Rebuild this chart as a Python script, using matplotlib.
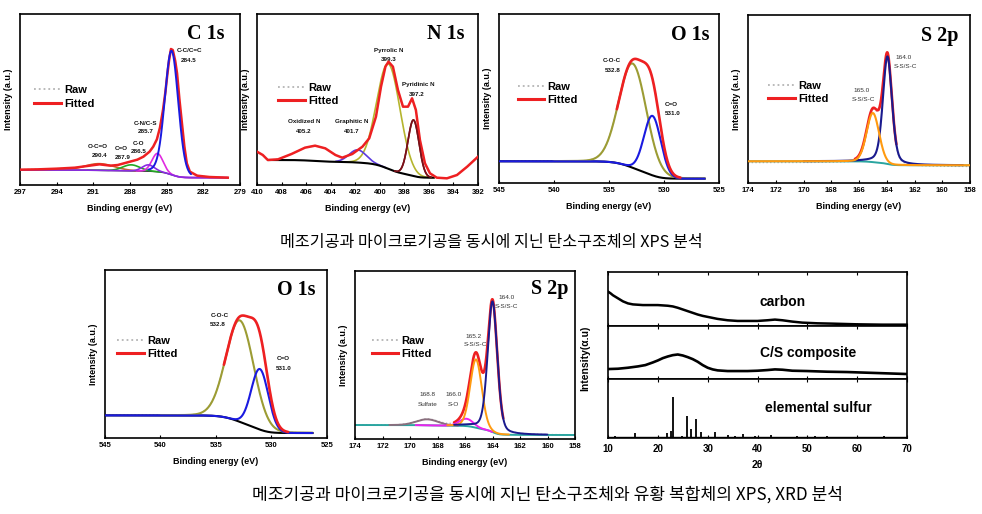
import numpy as np
import matplotlib
matplotlib.use("Agg")
import matplotlib.pyplot as plt
from matplotlib.lines import Line2D

plt.rcParams['font.family'] = ['Liberation Sans', 'DejaVu Sans']

# ======================= DATA =======================
# ---- C 1s (carbon structure) ----
c1s_names = ["C-C/C=C", "C-N/C-S", "C-O", "C=O", "O-C=O"]
c1s_values = ["284.5", "285.7", "286.5", "287.9", "290.4"]
c1s_centers = [284.6, 285.75, 286.5, 287.9, 290.5]
c1s_heights = [372, 55, 19, 18, 20]
c1s_widths = [0.55, 0.45, 0.5, 0.7, 1.2]
c1s_etas = [0.1, 0.0, 0.0, 0.0, 0.0]
c1s_ranges = [[286.5, 283.0], [287.5, 280.0], [297.0, 280.0], [291.5, 285.5], [295.5, 287.5]]
c1s_bg = [45, 22]
c1s_span = [297.0, 280.0]
c1s_fit_be = [297.0, 295.5, 294.0, 292.5, 291.5, 290.5, 289.6, 289.0, 288.0, 287.4, 286.9,
              286.4, 286.1, 285.8, 285.55, 285.3, 285.1, 284.95, 284.8, 284.65, 284.5, 284.3,
              284.15, 283.95, 283.75, 283.55, 283.35, 283.1, 282.5, 281.5, 280.0]
c1s_fit_int = [46, 47, 49, 52, 57, 62, 58, 60, 70, 76, 85,
               100, 115, 137, 172, 225, 280, 330, 375, 408, 405, 372,
               335, 255, 185, 115, 65, 40, 28, 24, 22]

# ---- N 1s ----
n1s_names = ["Oxidized N", "Graphitic N", "Pyrrolic N", "Pyridinic N"]
n1s_values = ["405.2", "401.7", "399.3", "397.2"]
n1s_centers = [405.2, 401.8, 399.3, 397.25]
n1s_heights = [46, 38, 315, 168]
n1s_widths = [1.1, 0.7, 0.95, 0.45]
n1s_etas = [0.0, 0.0, 0.0, 0.0]
n1s_ranges = [None, [403.6, 399.5], [403.0, 395.6], [398.8, 395.8]]
n1s_bg = [75, 22]
n1s_span = [409.1, 395.6]
n1s_fit_be = [410.0, 409.53, 409.12, 408.29, 407.19, 406.09, 405.27, 404.44, 403.61, 403.06,
              402.24, 401.41, 400.86, 400.31, 399.9, 399.54, 399.29, 398.93, 398.52, 398.11,
              397.7, 397.37, 397.06, 396.73, 396.32, 395.91, 395.36, 394.53, 393.71, 392.88, 392.0]
n1s_fit_int = [100, 90, 75, 77, 93, 112, 118, 110, 90, 82,
               93, 115, 140, 205, 295, 355, 370, 355, 285, 235,
               235, 260, 225, 135, 65, 35, 22, 20, 30, 55, 85]

# ---- O 1s (carbon structure) ----
o1s_names = ["C-O-C", "C=O"]
o1s_values = ["532.8", "531.0"]
o1s_centers = [532.85, 531.05]
o1s_heights = [312, 178]
o1s_widths = [1.25, 0.77]
o1s_etas = [0.05, 0.0]
o1s_ranges = [[540.0, 526.3], [545.0, 526.3]]
o1s_bg = [65, 13]
o1s_span = [545.0, 526.3]
o1s_fit_range = [534.3, 528.5]

# ---- S 2p (carbon structure) ----
s2p_names = ["S-S/S-C", "S-S/S-C"]
s2p_values = ["165.0", "164.0"]
s2p_centers = [165.0, 163.95]
s2p_heights = [147, 322]
s2p_widths = [0.45, 0.33]
s2p_etas = [0.1, 0.35]
s2p_ranges = [[174.0, 158.0], [170.0, 158.5]]
s2p_bg = [65, 53]
s2p_span = [174.0, 158.0]
s2p_fit_range = [166.3, 163.3]

# ---- O 1s (C/S composite) ----
o1s2_names = ["C-O-C", "C=O"]
o1s2_values = ["532.8", "531.0"]
o1s2_centers = [532.85, 531.05]
o1s2_heights = [305, 182]
o1s2_widths = [1.25, 0.77]
o1s2_etas = [0.05, 0.0]
o1s2_ranges = [[540.0, 526.3], [545.0, 526.3]]
o1s2_bg = [68, 15]
o1s2_span = [545.0, 526.3]
o1s2_fit_range = [534.3, 528.5]

# ---- S 2p (C/S composite) ----
s2p2_names = ["Sulfate", "S-O", "S-S/S-C", "S-S/S-C"]
s2p2_values = ["168.8", "166.0", "165.2", "164.0"]
s2p2_centers = [168.75, 165.9, 165.2, 164.0]
s2p2_heights = [18, 22, 205, 392]
s2p2_widths = [0.8, 0.5, 0.42, 0.35]
s2p2_etas = [0.0, 0.0, 0.1, 0.3]
s2p2_ranges = [[171.5, 166.5], [169.6, 164.0], [167.3, 162.8], [166.8, 160.0]]
s2p2_bg = [42, 12]
s2p2_span = [174.0, 158.0]
s2p2_fit_range = [166.8, 163.2]

# ---- XRD ----
xrd_labels = ["carbon", "C/S composite", "elemental sulfur"]
carbon_2theta = [10, 10.5, 11, 12, 13, 14, 15, 16, 17, 18, 19, 20, 21, 22, 23, 24, 25, 26, 27, 28,
                 29, 30, 31, 32, 33, 34, 35, 36, 38, 40, 42, 43.5, 45, 47, 49, 52, 55, 60, 65, 70]
carbon_int = [102, 97, 91, 82, 73, 67, 64, 63, 62, 62, 62, 62, 61, 60, 58, 54, 49, 44, 39, 34,
              30, 27, 24, 21, 19, 17, 16, 15, 15, 15, 17, 19, 17, 13, 10, 8, 7, 5, 4, 4]
cs_2theta = [10, 12, 14, 16, 17.5, 19, 20, 21, 22, 23, 24, 25, 26, 27, 28, 29, 30, 31, 32, 34,
             36, 38, 40, 42, 43.5, 45, 47, 50, 54, 58, 62, 66, 70]
cs_int = [30, 31, 34, 38, 42, 50, 56, 63, 68, 72, 74, 71, 66, 60, 52, 42, 34, 29, 26, 24,
          24, 24, 25, 27, 29, 28, 25, 24, 22, 21, 19, 17, 15]
sulfur_2theta = [11.5, 15.4, 21.9, 22.7, 23.1, 24.9, 25.9, 26.7, 27.7, 28.7, 31.4, 34.1, 35.5,
                 37.0, 39.4, 42.7, 47.9, 51.6, 53.9, 65.4]
sulfur_int = [5, 13, 13, 18, 121, 4, 63, 26, 56, 15, 15, 8, 5, 10, 5, 7, 5, 4, 4, 3]
sulfur_base = 2

caption_top = "메조기공과 마이크로기공을 동시에 지닌 탄소구조체의 XPS 분석"
caption_bottom = "메조기공과 마이크로기공을 동시에 지닌 탄소구조체와 유황 복합체의 XPS, XRD 분석"

# ======================= LAYOUT =======================
W, H = 982, 514
fig = plt.figure(figsize=(W / 100, H / 100), dpi=100)
fig.patch.set_facecolor('white')

RED = '#ee2022'
RAW = '#b4b4b4'


def add_ax(l, t, r, b):
    return fig.add_axes([l / W, 1 - b / H, (r - l) / W, (b - t) / H])


def pv(x, c, h, s, eta):
    g = np.exp(-0.5 * ((x - c) / s) ** 2)
    hw = 1.1774 * s
    lor = 1.0 / (1.0 + ((x - c) / hw) ** 2)
    return h * ((1 - eta) * g + eta * lor)


def model(span, centers, heights, widths, etas, bg_hilo, n=900):
    x = np.linspace(span[0], span[1], n)
    comps = [pv(x, c, h, s, e) for c, h, s, e in zip(centers, heights, widths, etas)]
    total = np.sum(comps, axis=0)
    cum = np.cumsum(total[::-1])[::-1]
    bg = bg_hilo[1] + (bg_hilo[0] - bg_hilo[1]) * cum / cum[0]
    return x, bg, [bg + c for c in comps], bg + total


def seg(ax, x, y, rng, **kw):
    m = (x <= rng[0]) & (x >= rng[1])
    ax.plot(x[m], y[m], solid_capstyle='round', **kw)


def setup_xps(ax, xlim, xticks, ymax, title, tx, ty):
    ax.set_xlim(*xlim)
    ax.set_ylim(0, ymax)
    ax.set_xticks(xticks)
    ax.set_yticks([])
    ax.tick_params(axis='x', direction='in', length=2.5, width=0.8, labelsize=5.5, pad=3)
    for lab in ax.get_xticklabels():
        lab.set_fontweight('bold')
    ax.set_xlabel('Binding energy (eV)', fontsize=6.5, fontweight='bold', labelpad=5.5)
    ax.set_ylabel('Intensity (a.u.)', fontsize=6.5, fontweight='bold', labelpad=5)
    for sp in ax.spines.values():
        sp.set_linewidth(1.2)
    ax.text(tx, ty, title, transform=ax.transAxes, ha='right', va='top',
            family='Liberation Serif', fontweight='bold', fontsize=14.5)


def add_legend(ax, x0, yc):
    hs = [Line2D([], [], color=RAW, ls=':', lw=1.3), Line2D([], [], color=RED, lw=2.2)]
    ax.legend(hs, ['Raw', 'Fitted'], loc='center left', bbox_to_anchor=(x0, yc),
              frameon=False, handlelength=2.4, handletextpad=0.3, labelspacing=0.3,
              borderpad=0, borderaxespad=0, prop={'weight': 'bold', 'size': 8})


def labels(ax, items, bold=True, size=4.5, color='#111111'):
    for txt, x, y in items:
        ax.text(x, y, txt, ha='center', va='center', fontsize=size,
                fontweight='bold' if bold else 'normal', color=color)


# ---------------- C 1s ----------------
ax = add_ax(20, 14, 240, 185)
x, bg, comps, tot = model(c1s_span, c1s_centers, c1s_heights, c1s_widths, c1s_etas, c1s_bg)
ax.plot(c1s_fit_be, c1s_fit_int, color=RAW, ls=':', lw=1.0, zorder=1)
ax.plot(x, bg, color='#333333', lw=1.0, zorder=2)
c1s_colors = ['#1a1ae0', '#e02ae0', '#8a2be2', '#22a822', '#c8692c']
for i in [4, 3, 1, 2]:
    seg(ax, x, comps[i], c1s_ranges[i], color=c1s_colors[i], lw=1.2, zorder=3)
ax.plot(c1s_fit_be, c1s_fit_int, color=RED, lw=1.8, zorder=4)
seg(ax, x, comps[0], c1s_ranges[0], color=c1s_colors[0], lw=1.4, zorder=5)
setup_xps(ax, (297, 279), [297, 294, 291, 288, 285, 282, 279], 513, 'C 1s', 0.93, 0.94)
add_legend(ax, 0.065, 0.515)
c1s_label_pos = [(283.15, 405), (283.2, 375), (286.7, 185), (286.7, 160), (287.3, 125),
                 (287.25, 100), (288.7, 110), (288.6, 83), (290.6, 115), (290.5, 88)]
c1s_texts = []
for k in [0, 1, 2, 3, 4]:
    c1s_texts += [c1s_names[k], c1s_values[k]]
labels(ax, [(t, p[0], p[1]) for t, p in zip(c1s_texts, c1s_label_pos)])

# ---------------- N 1s ----------------
ax = add_ax(257, 14, 478, 185)
x, bg, comps, tot = model(n1s_span, n1s_centers, n1s_heights, n1s_widths, n1s_etas, n1s_bg)
ax.plot(n1s_fit_be, n1s_fit_int, color=RAW, ls=':', lw=1.0, zorder=1)
n1s_colors = [RED, '#5b3ae0', '#b5b52e', '#7a1018']
for i in [2, 1, 3]:
    seg(ax, x, comps[i], n1s_ranges[i], color=n1s_colors[i], lw=1.2, zorder=3)
ax.plot(x, bg, color='black', lw=1.5, zorder=3.5)
ax.plot(n1s_fit_be, n1s_fit_int, color=RED, lw=1.8, zorder=4)
seg(ax, x, comps[3], n1s_ranges[3], color=n1s_colors[3], lw=1.2, zorder=5)
setup_xps(ax, (410, 392), list(range(410, 391, -2)), 513, 'N 1s', 0.94, 0.94)
add_legend(ax, 0.095, 0.53)
n1s_label_pos = [(406.17, 190), (406.17, 160), (402.3, 190), (402.3, 160),
                 (399.29, 403), (399.29, 376), (396.87, 303), (396.95, 273)]
n1s_texts = []
for k in range(4):
    n1s_texts += [n1s_names[k], n1s_values[k]]
labels(ax, [(t, p[0], p[1]) for t, p in zip(n1s_texts, n1s_label_pos)])


# ---------------- O 1s panels ----------------
def o1s_panel(box, span, centers, heights, widths, etas, bg_hilo, ranges, fit_range,
              names, values, lpos, ymax, leg, ttl):
    ax = add_ax(*box)
    x, bg, comps, tot = model(span, centers, heights, widths, etas, bg_hilo)
    ax.plot(x, tot, color=RAW, ls=':', lw=1.0, zorder=1)
    ax.plot(x, bg, color='black', lw=1.5, zorder=2)
    seg(ax, x, comps[0], ranges[0], color='#9c9c34', lw=1.5, zorder=3)
    seg(ax, x, comps[1], ranges[1], color='#1a1ae0', lw=1.5, zorder=4)
    seg(ax, x, tot, fit_range, color=RED, lw=1.9, zorder=5)
    setup_xps(ax, (545, 525), [545, 540, 535, 530, 525], ymax, 'O 1s', ttl[0], ttl[1])
    add_legend(ax, leg[0], leg[1])
    txt = [names[0], values[0], names[1], values[1]]
    labels(ax, [(t, p[0], p[1]) for t, p in zip(txt, lpos)])
    return ax


o1s_label_pos = [(534.7, 368), (534.64, 338), (529.33, 236), (529.24, 208)]
o1s_panel((499, 14, 719, 183), o1s_span, o1s_centers, o1s_heights, o1s_widths, o1s_etas,
          o1s_bg, o1s_ranges, o1s_fit_range, o1s_names, o1s_values, o1s_label_pos, 506,
          (0.085, 0.53), (0.955, 0.935))
o1s2_label_pos = [(534.66, 368), (534.8, 340), (528.9, 240), (528.9, 210)]
o1s_panel((105, 270, 327, 438), o1s2_span, o1s2_centers, o1s2_heights, o1s2_widths,
          o1s2_etas, o1s2_bg, o1s2_ranges, o1s2_fit_range, o1s2_names, o1s2_values,
          o1s2_label_pos, 505, (0.055, 0.54), (0.95, 0.94))

# ---------------- S 2p (top) ----------------
ax = add_ax(748, 15, 970, 183)
x, bg, comps, tot = model(s2p_span, s2p_centers, s2p_heights, s2p_widths, s2p_etas, s2p_bg)
ax.plot(x, tot - 4, color=RAW, ls=':', lw=1.0, zorder=1)
ax.plot(x, bg, color='#2aa5a0', lw=1.4, zorder=2)
seg(ax, x, comps[1], s2p_ranges[1], color='#1a1a8e', lw=1.5, zorder=3)
seg(ax, x, tot, s2p_fit_range, color=RED, lw=1.9, zorder=2.5)
seg(ax, x, comps[0], s2p_ranges[0], color='#ff9a10', lw=1.5, zorder=4)
setup_xps(ax, (174, 158), list(range(174, 157, -2)), 503, 'S 2p', 0.95, 0.935)
add_legend(ax, 0.09, 0.54)
s2p_label_pos = [(165.82, 278), (165.7, 250), (162.81, 376), (162.69, 350)]
s2p_texts = [s2p_values[0], s2p_names[0], s2p_values[1], s2p_names[1]]
labels(ax, [(t, p[0], p[1]) for t, p in zip(s2p_texts, s2p_label_pos)], bold=False,
       size=4.6, color='#333333')

# ---------------- S 2p (bottom) ----------------
ax = add_ax(355, 271, 575, 439)
x, bg, comps, tot = model(s2p2_span, s2p2_centers, s2p2_heights, s2p2_widths, s2p2_etas, s2p2_bg)
ax.plot(x, tot, color=RAW, ls=':', lw=1.0, zorder=1)
ax.plot(x, bg, color='#2aa5a0', lw=1.4, zorder=2)
s2p2_colors = ['#8a6f7e', '#ee22ee', '#ff9a10', '#1a1a8e']
for i in range(4):
    seg(ax, x, comps[i], s2p2_ranges[i], color=s2p2_colors[i], lw=1.4, zorder=3 + i * 0.1)
seg(ax, x, tot, s2p2_fit_range, color=RED, lw=1.9, zorder=2.9)
setup_xps(ax, (174, 158), list(range(174, 157, -2)), 504, 'S 2p', 0.97, 0.95)
add_legend(ax, 0.075, 0.545)
s2p2_label_pos = [(168.74, 132), (168.7, 102), (166.85, 132), (166.85, 102),
                  (165.39, 309), (165.27, 282), (162.97, 424), (162.97, 397)]
s2p2_texts = []
for k in range(4):
    s2p2_texts += [s2p2_values[k], s2p2_names[k]]
labels(ax, [(t, p[0], p[1]) for t, p in zip(s2p2_texts, s2p2_label_pos)], bold=False,
       size=4.6, color='#333333')

# ---------------- XRD ----------------
ax_c = add_ax(608, 272, 907, 326)
ax_cs = add_ax(608, 326, 907, 379)
ax_s = add_ax(608, 379, 907, 438)
ax_c.plot(carbon_2theta, carbon_int, color='black', lw=1.8)
ax_cs.plot(cs_2theta, cs_int, color='black', lw=1.9)
ax_s.plot([10, 70], [sulfur_base, sulfur_base], color='black', lw=1.0)
ax_s.vlines(sulfur_2theta, sulfur_base, np.array(sulfur_int) + sulfur_base, color='black', lw=1.3)
for a, ymax in [(ax_c, 160), (ax_cs, 160), (ax_s, 178)]:
    a.set_xlim(10, 70)
    a.set_ylim(0, ymax)
    a.set_yticks([])
    a.set_xticks(range(10, 71, 10))
    a.tick_params(axis='x', direction='in', length=2.5, width=0.8, top=True)
    for sp in a.spines.values():
        sp.set_linewidth(1.2)
for a in (ax_c, ax_cs):
    a.tick_params(labelbottom=False)
ax_s.tick_params(axis='x', labelsize=7, pad=4)
for lab in ax_s.get_xticklabels():
    lab.set_fontweight('bold')
ax_s.set_xlabel('2θ', fontsize=7.5, fontweight='bold', labelpad=5)
ax_c.text(0.585, 0.44, xrd_labels[0], transform=ax_c.transAxes, ha='center', va='center',
          fontsize=10, fontweight='bold')
ax_cs.text(0.669, 0.49, xrd_labels[1], transform=ax_cs.transAxes, ha='center', va='center',
           fontsize=10, fontweight='bold')
ax_s.text(0.702, 0.51, xrd_labels[2], transform=ax_s.transAxes, ha='center', va='center',
          fontsize=10, fontweight='bold')
fig.text(585 / W, 1 - 358 / H, 'Intensity(α.u)', rotation=90, ha='center', va='center',
         fontsize=7.5, fontweight='bold')

# ---------------- captions ----------------
fig.text(491 / W, 1 - 243 / H, caption_top, ha='center', va='center', fontsize=11.6,
         family=['Noto Sans CJK KR', 'DejaVu Sans'])
fig.text(547 / W, 1 - 495 / H, caption_bottom, ha='center', va='center', fontsize=12.3,
         family=['Noto Sans CJK KR', 'DejaVu Sans'])

fig.savefig('out.png', dpi=100)
